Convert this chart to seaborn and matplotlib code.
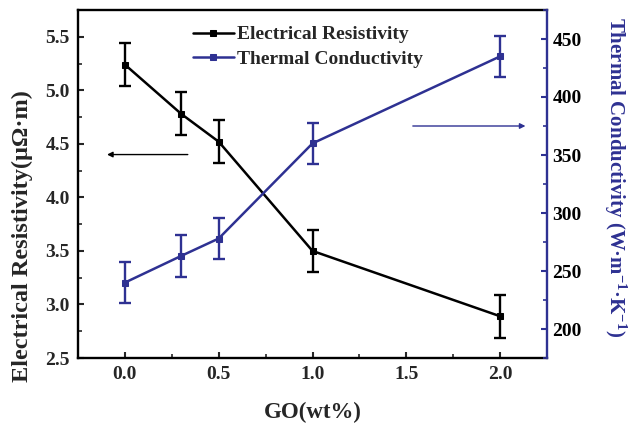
import numpy as np
import pandas as pd
import matplotlib
matplotlib.use("Agg")
import matplotlib.pyplot as plt
from matplotlib.ticker import MultipleLocator
import seaborn as sns

# ── DATA ─────────────────────────────────────────────────────────────────────
go_wt = [0.0, 0.3, 0.5, 1.0, 2.0]
resistivity = [5.24, 4.78, 4.52, 3.50, 2.89]
resistivity_err = [0.20, 0.20, 0.20, 0.20, 0.20]
thermal = [240, 263, 278, 360, 435]
thermal_err = [18, 18, 18, 18, 18]

BLUE = "#2E3192"
BLACK = "black"

sns.set_style("ticks")
plt.rcParams["font.family"] = ["Liberation Serif", "DejaVu Serif"]
plt.rcParams["font.weight"] = "bold"
plt.rcParams["mathtext.fontset"] = "custom"
plt.rcParams["mathtext.rm"] = "Liberation Serif:bold"
plt.rcParams["mathtext.default"] = "rm"

df = pd.DataFrame({"GO": go_wt, "rho": resistivity, "k": thermal})

fig, ax = plt.subplots(figsize=(6.38, 4.23), dpi=100)
fig.subplots_adjust(left=78 / 638, right=547 / 638, bottom=1 - 358 / 423, top=1 - 10 / 423)
ax2 = ax.twinx()

sns.lineplot(data=df, x="GO", y="rho", ax=ax, color=BLACK, marker="s", markersize=4.5,
             linewidth=1.8, markeredgecolor=BLACK, label="Electrical Resistivity", legend=False)
ax.errorbar(go_wt, resistivity, yerr=resistivity_err, fmt="none", ecolor=BLACK,
            elinewidth=1.7, capsize=4.5, capthick=1.7)

sns.lineplot(data=df, x="GO", y="k", ax=ax2, color=BLUE, marker="s", markersize=4.5,
             linewidth=1.8, markeredgecolor=BLUE, label="Thermal Conductivity", legend=False)
ax2.errorbar(go_wt, thermal, yerr=thermal_err, fmt="none", ecolor=BLUE,
             elinewidth=1.7, capsize=4.5, capthick=1.7)

ax.set_xlim(-0.25, 2.25)
ax.set_ylim(2.5, 5.75)
ax2.set_ylim(175, 475)

ax.xaxis.set_minor_locator(MultipleLocator(0.25))
ax.yaxis.set_minor_locator(MultipleLocator(0.25))
ax2.yaxis.set_minor_locator(MultipleLocator(25))
ax.set_xticks(np.arange(0, 2.01, 0.5))
ax.set_yticks(np.arange(2.5, 5.51, 0.5))
ax2.set_yticks(np.arange(200, 451, 50))

ax.tick_params(axis="both", which="major", direction="in", length=4.5, width=1.5,
               labelsize=14, right=False, top=False, pad=6)
ax.tick_params(axis="both", which="minor", direction="in", length=3, width=1.2,
               right=False, top=False)
ax2.tick_params(axis="y", which="major", direction="in", length=4.5, width=1.5,
                colors=BLUE, labelcolor=BLACK, labelsize=14, pad=4)
ax2.tick_params(axis="y", which="minor", direction="in", length=3, width=1.2, colors=BLUE)

for s in ["left", "bottom", "top"]:
    ax.spines[s].set_linewidth(1.7)
    ax.spines[s].set_color(BLACK)
ax.spines["right"].set_visible(False)
for s in ["left", "bottom", "top"]:
    ax2.spines[s].set_visible(False)
ax2.spines["right"].set_color(BLUE)
ax2.spines["right"].set_linewidth(1.7)

ax.set_xlabel("GO(wt%)", fontsize=16.5, fontweight="bold")
ax.xaxis.set_label_coords(0.5, -0.125)
ax.set_ylabel("Electrical Resistivity(μΩ·m)", fontsize=17.5, fontweight="bold")
ax.yaxis.set_label_coords(-0.095, 0.35)
ax2.set_ylabel("Thermal Conductivity (W·m$^{-1}$·K$^{-1}$)", fontsize=15,
               fontweight="bold", color=BLUE, rotation=270, va="bottom")
ax2.yaxis.set_label_coords(1.118, 0.52)

# direction arrows
ax.annotate("", xy=(-0.11, 4.4), xytext=(0.35, 4.4),
            arrowprops=dict(arrowstyle="-|>", color=BLACK, lw=1.0, mutation_scale=8))
ax2.annotate("", xy=(2.15, 375), xytext=(1.52, 375),
             arrowprops=dict(arrowstyle="-|>", color=BLUE, lw=1.0, mutation_scale=8))

h1, l1 = ax.get_legend_handles_labels()
h2, l2 = ax2.get_legend_handles_labels()
ax2.legend(h1 + h2, l1 + l2, loc="upper left", bbox_to_anchor=(0.23, 0.974), frameon=False,
           fontsize=14, handlelength=2.1, handletextpad=0.2, labelspacing=0.34,
           borderaxespad=0.15, borderpad=0.2)

plt.savefig("out.png", dpi=100)
